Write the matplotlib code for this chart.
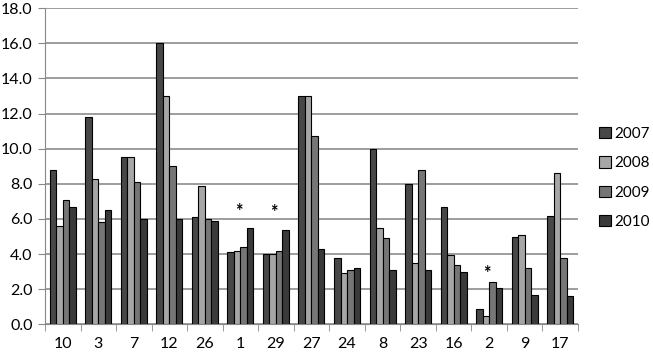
import numpy as np
import matplotlib.pyplot as plt

plt.rcParams['font.family'] = ['Lato', 'DejaVu Sans']

groups = ['10', '3', '7', '12', '26', '1', '29', '27', '24', '8', '23', '16', '2', '9', '17']
years = ['2007', '2008', '2009', '2010']
v2007 = [8.8, 11.8, 9.5, 16.0, 6.1, 4.1, 4.0, 13.0, 3.8, 10.0, 8.0, 6.7, 0.85, 5.0, 6.15]
v2008 = [5.6, 8.3, 9.5, 13.0, 7.9, 4.2, 4.0, 13.0, 2.9, 5.5, 3.5, 3.95, 0.45, 5.1, 8.6]
v2009 = [7.1, 5.8, 8.1, 9.0, 6.0, 4.4, 4.2, 10.7, 3.1, 4.9, 8.8, 3.4, 2.4, 3.2, 3.8]
v2010 = [6.7, 6.5, 6.0, 6.0, 5.9, 5.5, 5.35, 4.3, 3.2, 3.1, 3.1, 3.0, 2.1, 1.65, 1.6]
colors = ['#474747', '#a6a6a6', '#767676', '#3a3a3a']
# groups marked with an asterisk and the mark height
star_groups = ['1', '29', '2']
star_y = [6.45, 6.35, 2.9]

fig = plt.figure(figsize=(6.53, 3.53), dpi=100)
ax = fig.add_axes([0.069, 0.081, 0.816, 0.896])

x = np.arange(len(groups))
w = 0.183
for i, (vals, c, lab) in enumerate(zip([v2007, v2008, v2009, v2010], colors, years)):
    ax.bar(x + (i - 1.5) * w, vals, width=w, color=c, edgecolor='black',
           linewidth=0.8, label=lab, zorder=3)

for g, sy in zip(star_groups, star_y):
    ax.text(groups.index(g) - 0.05, sy, '*', ha='center', va='center',
            fontsize=13, fontweight='bold', zorder=4)

ax.set_xlim(-0.5, len(groups) - 0.5)
ax.set_ylim(0, 18)
ax.set_yticks(np.arange(0, 18.1, 2))
ax.set_yticklabels(['%.1f' % t for t in np.arange(0, 18.1, 2)])
ax.set_xticks(x)
ax.set_xticklabels(groups)
ax.set_xticks(np.arange(-0.5, len(groups), 1), minor=True)
ax.tick_params(axis='x', which='major', length=0, pad=9, labelsize=11.5)
ax.tick_params(axis='x', which='minor', length=5, color='#888888', direction='out')
ax.tick_params(axis='y', length=5, color='#888888', labelsize=11.5, pad=4)
ax.grid(axis='y', color='#8c8c8c', linewidth=1.2, zorder=0)
for s in ['top', 'right']:
    ax.spines[s].set_visible(False)
ax.spines['left'].set_color('#888888')
ax.spines['bottom'].set_color('#888888')

fig.legend(loc='center left', bbox_to_anchor=(0.918, 1 - 178 / 353), frameon=False,
           fontsize=11, handlelength=0.75, handleheight=0.75, handletextpad=0.25,
           labelspacing=1.0, borderpad=0, borderaxespad=0)

fig.savefig('out.png', dpi=100)
